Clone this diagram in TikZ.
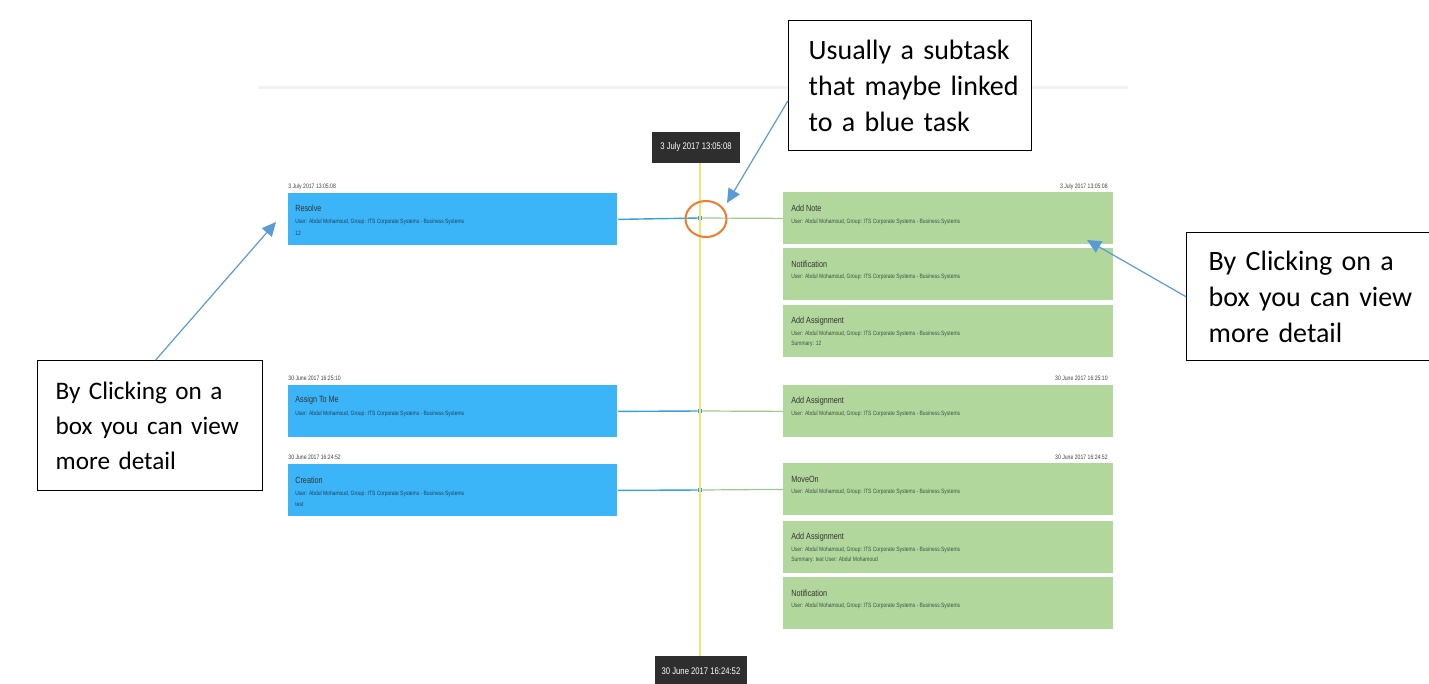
\documentclass[tikz,border=0pt]{standalone}
\usepackage{fontspec}
\setmainfont{Carlito}
\newfontfamily\narrow[FakeStretch=0.8]{Liberation Sans}
\usetikzlibrary{arrows.meta,calc,shapes.geometric}
\definecolor{taskblue}{RGB}{59,181,248}
\definecolor{taskgreen}{RGB}{178,215,156}
\definecolor{conblue}{RGB}{58,160,216}
\definecolor{congreen}{RGB}{160,200,140}
\definecolor{tlyellow}{RGB}{245,225,120}
\definecolor{datebg}{RGB}{46,46,46}
\definecolor{callblue}{RGB}{91,155,213}
\definecolor{ringorange}{RGB}{237,125,49}
\definecolor{subblue}{RGB}{35,65,95}
\definecolor{subgreen}{RGB}{60,85,70}
\begin{document}
\begin{tikzpicture}[x=0.5pt,y=-0.5pt,
  bluebox/.style={fill=taskblue,draw=none,anchor=north west,minimum width=164.5pt,minimum height=26pt,inner sep=0pt},
  greenbox/.style={fill=taskgreen,draw=none,anchor=north west,minimum width=165pt,minimum height=26pt,inner sep=0pt},
  ttl/.style={anchor=west,inner sep=0pt,font=\narrow\fontsize{4.5}{5}\selectfont,text=black!80},
  subb/.style={anchor=west,inner sep=0pt,font=\narrow\fontsize{3.1}{4}\selectfont,text=subblue},
  subg/.style={anchor=west,inner sep=0pt,font=\narrow\fontsize{3.1}{4}\selectfont,text=subgreen},
  datel/.style={inner sep=0pt,font=\narrow\fontsize{3.2}{4}\selectfont,text=black!75},
  datebox/.style={fill=datebg,draw=none,text=white,inner sep=0pt,font=\narrow\fontsize{4.8}{5}\selectfont},
  dotsq/.style={fill=conblue,draw=none,minimum size=2pt,inner sep=0pt},
  bluecon/.style={draw=conblue,line width=0.7pt},
  greencon/.style={draw=congreen,line width=0.6pt},
  callout/.style={draw=black,line width=0.7pt,fill=white,anchor=north west,align=left,
    font=\fontsize{14}{18}\selectfont},
  callarrow/.style={draw=callblue,line width=0.6pt,-{Triangle[length=7pt,width=6.5pt]}}
]
\useasboundingbox (0,0) rectangle (1429,684);
% faint header line
\draw[line width=1.5pt,draw=black!5] (258,88) -- (1128,88);

% timeline
\node[datebox,minimum width=44pt,minimum height=15.5pt] (topdate) at (696,147.5) {3 July 2017 13:05:08};
\node[datebox,minimum width=46pt,minimum height=15pt] (botdate) at (701,671) {30 June 2017 16:24:52};
\node[dotsq] (dot1) at (700,218) {};
\node[dotsq] (dot2) at (700,411) {};
\node[dotsq] (dot3) at (700,490) {};
\draw[draw=tlyellow,line width=0.8pt] (topdate.south -| dot1) -- (botdate.north -| dot1);

% left blue boxes
\node[datel,anchor=west] (ld1) at (288,187) {3 July 2017 13:05:08};
\node[bluebox] (resolve) at (288,193) {};
\node[ttl] (resolveT) at (295,208) {Resolve};
\node[subb] (resolveS) at (295,222) {User: Abdul Mohamoud, Group: ITS Corporate Systems - Business Systems};
\node[subb] (resolveX) at (295,233) {12};

\node[datel,anchor=west] (ld2) at (288,378) {30 June 2017 16:25:10};
\node[bluebox] (assign) at (288,385) {};
\node[ttl] (assignT) at (295,400) {Assign To Me};
\node[subb] (assignS) at (295,414) {User: Abdul Mohamoud, Group: ITS Corporate Systems - Business Systems};

\node[datel,anchor=west] (ld3) at (288,457) {30 June 2017 16:24:52};
\node[bluebox] (creation) at (288,464) {};
\node[ttl] (creationT) at (295,480) {Creation};
\node[subb] (creationS) at (295,494) {User: Abdul Mohamoud, Group: ITS Corporate Systems - Business Systems};
\node[subb] (creationX) at (295,505) {test};

% right green boxes
\node[datel,anchor=east] (rd1) at (1108,187) {3 July 2017 13:05:08};
\node[greenbox] (addnote) at (783,192) {};
\node[ttl] (addnoteT) at (791,208) {Add Note};
\node[subg] (addnoteS) at (791,222) {User: Abdul Mohamoud, Group: ITS Corporate Systems - Business Systems};

\node[greenbox] (notif1) at (783,248) {};
\node[ttl] (notif1T) at (791,264) {Notification};
\node[subg] (notif1S) at (791,277) {User: Abdul Mohamoud, Group: ITS Corporate Systems - Business Systems};

\node[greenbox] (adda1) at (783,305) {};
\node[ttl] (adda1T) at (791,321) {Add Assignment};
\node[subg] (adda1S) at (791,334) {User: Abdul Mohamoud, Group: ITS Corporate Systems - Business Systems};
\node[subg] (adda1X) at (791,344) {Summary: 12};

\node[datel,anchor=east] (rd2) at (1108,378) {30 June 2017 16:25:10};
\node[greenbox] (adda2) at (783,385) {};
\node[ttl] (adda2T) at (791,401) {Add Assignment};
\node[subg] (adda2S) at (791,414) {User: Abdul Mohamoud, Group: ITS Corporate Systems - Business Systems};

\node[datel,anchor=east] (rd3) at (1108,457) {30 June 2017 16:24:52};
\node[greenbox] (moveon) at (783,463) {};
\node[ttl] (moveonT) at (791,479) {MoveOn};
\node[subg] (moveonS) at (791,492) {User: Abdul Mohamoud, Group: ITS Corporate Systems - Business Systems};

\node[greenbox] (adda3) at (783,521) {};
\node[ttl] (adda3T) at (791,537) {Add Assignment};
\node[subg] (adda3S) at (791,550) {User: Abdul Mohamoud, Group: ITS Corporate Systems - Business Systems};
\node[subg] (adda3X) at (791,560) {Summary: test User: Abdul Mohamoud};

\node[greenbox] (notif2) at (783,577) {};
\node[ttl] (notif2T) at (791,593) {Notification};
\node[subg] (notif2S) at (791,606) {User: Abdul Mohamoud, Group: ITS Corporate Systems - Business Systems};

% connectors
\draw[bluecon] (resolve.east) -- (dot1);
\draw[greencon] (dot1) -- (addnote.west);
\draw[bluecon] (assign.east) -- (dot2);
\draw[greencon] (dot2) -- (adda2.west);
\draw[bluecon] (creation.east) -- (dot3);
\draw[greencon] (dot3) -- (moveon.west);

% orange ring
\node[draw=ringorange,line width=1pt,ellipse,minimum width=20.5pt,minimum height=18pt,inner sep=0pt] (ring) at (706,219) {};

% callouts
\node[callout,minimum width=121.5pt,minimum height=65pt,inner xsep=10pt,text width=101.5pt] (c1) at (788,20) {Usually~a~subtask\\that~maybe~linked\\to~a~blue~task};
\node[callout,minimum width=123pt,minimum height=64pt,inner xsep=11pt,text width=101pt] (c2) at (1186,232) {By~Clicking~on~a\\box~you~can~view\\more~detail};
\node[callout,minimum width=112.5pt,minimum height=65pt,inner xsep=9pt,text width=94.5pt,font=\fontsize{12.6}{17.5}\selectfont] (c3) at (37,360) {By~Clicking~on~a\\box~you~can~view\\more~detail};

\coordinate (t1) at (727,203);
\coordinate (t2) at (1087,240);
\coordinate (t3) at (276,222);
\draw[callarrow] (c1.187) -- (t1);
\draw[callarrow] (c2.west) -- (t2);
\draw[callarrow] ([xshift=2.75pt]c3.north) -- (t3);
\end{tikzpicture}
\end{document}
